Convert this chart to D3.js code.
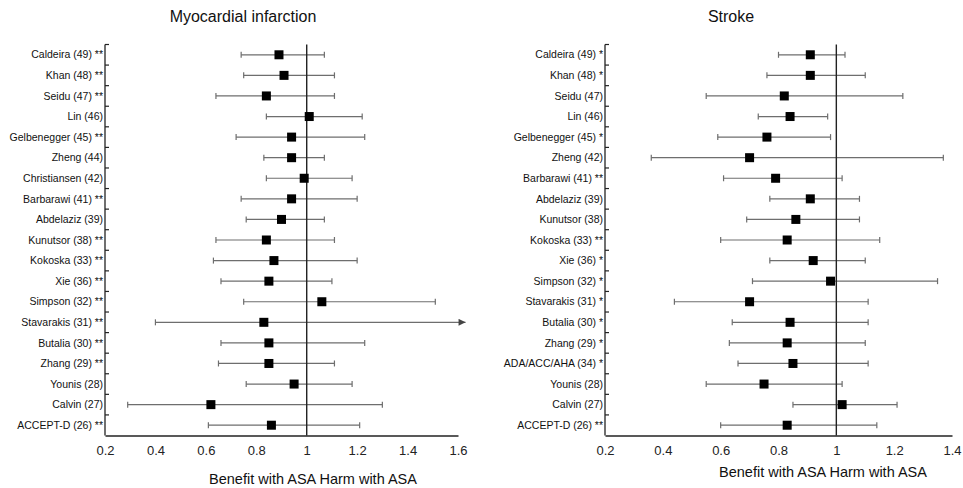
<!DOCTYPE html>
<html>
<head>
<meta charset="utf-8">
<style>
  body { margin: 0; background: #fff; }
  svg { display: block; font-family: "Liberation Sans", Arial, sans-serif; }
</style>
</head>
<body>
<svg id="chart" width="963" height="488"></svg>
<script src="https://cdn.jsdelivr.net/npm/d3@7"></script>
<script>
// Myocardial infarction: relative risk with ASA, with 95% CI
const miStudies = ['Caldeira (49) **', 'Khan (48) **', 'Seidu (47) **', 'Lin (46)', 'Gelbenegger (45) **',
  'Zheng (44)', 'Christiansen (42)', 'Barbarawi (41) **', 'Abdelaziz (39)', 'Kunutsor (38) **',
  'Kokoska (33) **', 'Xie (36) **', 'Simpson (32) **', 'Stavarakis (31) **', 'Butalia (30) **',
  'Zhang (29) **', 'Younis (28)', 'Calvin (27)', 'ACCEPT-D (26) **']
const miEst = [0.89, 0.91, 0.84, 1.01, 0.94, 0.94, 0.99, 0.94, 0.90, 0.84, 0.87, 0.85, 1.06, 0.83, 0.85, 0.85, 0.95, 0.62, 0.86]
const miLow = [0.74, 0.75, 0.64, 0.84, 0.72, 0.83, 0.84, 0.74, 0.76, 0.64, 0.63, 0.66, 0.75, 0.40, 0.66, 0.65, 0.76, 0.29, 0.61]
const miHigh = [1.07, 1.11, 1.11, 1.22, 1.23, 1.07, 1.18, 1.20, 1.07, 1.11, 1.20, 1.10, 1.51, 1.63, 1.23, 1.11, 1.18, 1.30, 1.21]
const miTicks = [0.2, 0.4, 0.6, 0.8, 1, 1.2, 1.4, 1.6]

// Stroke
const stStudies = ['Caldeira (49) *', 'Khan (48) *', 'Seidu (47)', 'Lin (46)', 'Gelbenegger (45) *',
  'Zheng (42)', 'Barbarawi (41) **', 'Abdelaziz (39)', 'Kunutsor (38)', 'Kokoska (33) **',
  'Xie (36) *', 'Simpson (32) *', 'Stavarakis (31) *', 'Butalia (30) *', 'Zhang (29) *',
  'ADA/ACC/AHA (34) *', 'Younis (28)', 'Calvin (27)', 'ACCEPT-D (26) **']
const stEst = [0.91, 0.91, 0.82, 0.84, 0.76, 0.70, 0.79, 0.91, 0.86, 0.83, 0.92, 0.98, 0.70, 0.84, 0.83, 0.85, 0.75, 1.02, 0.83]
const stLow = [0.80, 0.76, 0.55, 0.73, 0.59, 0.36, 0.61, 0.77, 0.69, 0.60, 0.77, 0.71, 0.44, 0.64, 0.63, 0.66, 0.55, 0.85, 0.60]
const stHigh = [1.03, 1.10, 1.23, 0.97, 0.98, 1.37, 1.02, 1.08, 1.08, 1.15, 1.10, 1.35, 1.11, 1.11, 1.10, 1.11, 1.02, 1.21, 1.14]
const stTicks = [0.2, 0.4, 0.6, 0.8, 1, 1.2, 1.4]

const svg = d3.select('#chart')
const defs = svg.append('defs')
defs.append('marker')
  .attr('id', 'arrow')
  .attr('viewBox', '0 0 10 10')
  .attr('refX', 10).attr('refY', 5)
  .attr('markerWidth', 8).attr('markerHeight', 7)
  .attr('markerUnits', 'userSpaceOnUse')
  .attr('orient', 'auto')
  .append('path').attr('d', 'M0,0L10,5L0,10Z').attr('fill', '#444')

function panel({ title, studies, est, low, high, ticks, x0, x1, titleX, axisTitleX, axisTitleY }) {
  const rows = studies.map((s, i) => ({ s, est: est[i], low: low[i], high: high[i] }))
  const x = d3.scaleLinear().domain([ticks[0], ticks[ticks.length - 1]]).range([x0, x1])
  const y = d3.scaleBand().domain(studies).range([44.5, 435.5])
  const g = svg.append('g')

  g.append('text')
    .attr('x', titleX).attr('y', 22)
    .attr('text-anchor', 'middle')
    .attr('font-size', 16).attr('fill', '#111')
    .text(title)

  // x axis: plain line with labels, no tick marks
  const xa = g.append('g')
    .attr('transform', `translate(0,${y.range()[1]})`)
    .call(d3.axisBottom(x).tickValues(ticks).tickSize(0).tickPadding(10).tickFormat(d => String(+d.toFixed(1))))
  xa.select('.domain').attr('stroke', '#222').attr('stroke-width', 1.3)
  xa.selectAll('text').attr('font-size', 13).attr('fill', '#222').attr('font-family', null)

  // y axis: line with short inward ticks at row boundaries
  g.append('line')
    .attr('x1', x0).attr('x2', x0)
    .attr('y1', y.range()[0]).attr('y2', y.range()[1])
    .attr('stroke', '#222').attr('stroke-width', 1.3)
  g.selectAll('line.ytick')
    .data(studies)
    .join('line').attr('class', 'ytick')
    .attr('x1', x0).attr('x2', x0 + 4)
    .attr('y1', d => y(d)).attr('y2', d => y(d))
    .attr('stroke', '#222').attr('stroke-width', 1.2)
  g.selectAll('text.ylab')
    .data(studies)
    .join('text').attr('class', 'ylab')
    .attr('x', x0 - 2)
    .attr('y', d => y(d) + y.bandwidth() / 2)
    .attr('dy', '0.35em')
    .attr('text-anchor', 'end')
    .attr('font-size', 10.5).attr('fill', '#111')
    .text(d => d)

  // whiskers
  const cy = d => y(d.s) + y.bandwidth() / 2
  const over = d => d.high > x.domain()[1]
  g.selectAll('line.ci')
    .data(rows)
    .join('line').attr('class', 'ci')
    .attr('x1', d => x(d.low)).attr('x2', d => x(d.high))
    .attr('y1', cy).attr('y2', cy)
    .attr('stroke', '#6e6e6e').attr('stroke-width', 1.2)
    .attr('marker-end', d => over(d) ? 'url(#arrow)' : null)
  g.selectAll('line.capl')
    .data(rows)
    .join('line').attr('class', 'capl')
    .attr('x1', d => x(d.low)).attr('x2', d => x(d.low))
    .attr('y1', d => cy(d) - 3).attr('y2', d => cy(d) + 3)
    .attr('stroke', '#6e6e6e').attr('stroke-width', 1.2)
  g.selectAll('line.caph')
    .data(rows.filter(d => !over(d)))
    .join('line').attr('class', 'caph')
    .attr('x1', d => x(d.high)).attr('x2', d => x(d.high))
    .attr('y1', d => cy(d) - 3).attr('y2', d => cy(d) + 3)
    .attr('stroke', '#6e6e6e').attr('stroke-width', 1.2)

  // reference line at 1
  g.append('line')
    .attr('x1', x(1)).attr('x2', x(1))
    .attr('y1', y.range()[0]).attr('y2', y.range()[1])
    .attr('stroke', '#222').attr('stroke-width', 1.4)

  g.selectAll('rect.pt')
    .data(rows)
    .join('rect').attr('class', 'pt')
    .attr('x', d => x(d.est) - 4.5).attr('y', d => cy(d) - 4.5)
    .attr('width', 9).attr('height', 9)
    .attr('fill', '#000')

  g.append('text')
    .attr('x', axisTitleX).attr('y', axisTitleY)
    .attr('dy', '0.35em')
    .attr('text-anchor', 'middle')
    .attr('font-size', 14.5).attr('fill', '#111')
    .text('Benefit with ASA Harm with ASA')
}

panel({ title: 'Myocardial infarction', studies: miStudies, est: miEst, low: miLow, high: miHigh,
  ticks: miTicks, x0: 105, x1: 458, titleX: 243, axisTitleX: 313, axisTitleY: 479 })
panel({ title: 'Stroke', studies: stStudies, est: stEst, low: stLow, high: stHigh,
  ticks: stTicks, x0: 605, x1: 952, titleX: 731, axisTitleX: 823, axisTitleY: 472 })
</script>
</body>
</html>
